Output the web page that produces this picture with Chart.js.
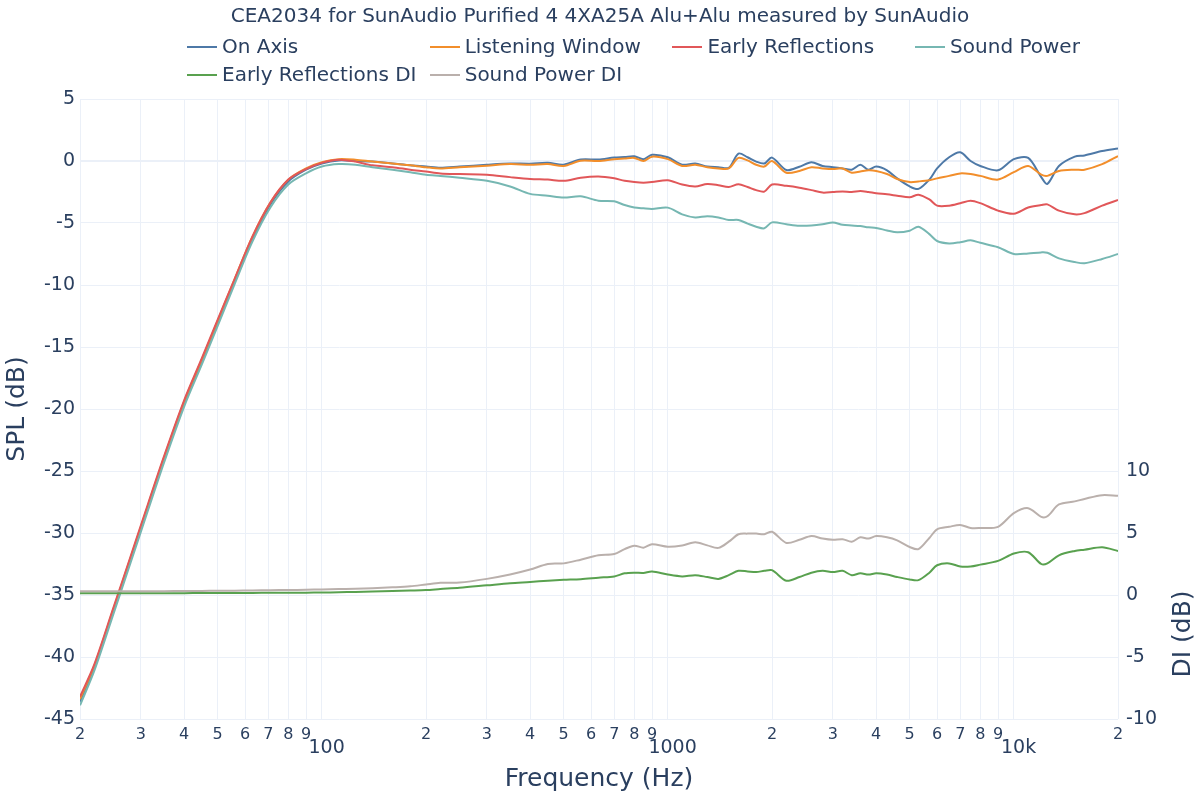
<!DOCTYPE html>
<html>
<head>
<meta charset="utf-8">
<title>CEA2034 SunAudio Purified 4</title>
<script src="https://cdn.jsdelivr.net/npm/chart.js@4.4.1/dist/chart.umd.min.js"></script>
<style>
  html, body { margin: 0; padding: 0; background: #fff; }
  #wrap { position: relative; width: 1200px; height: 800px; font-family: "DejaVu Sans", Verdana, sans-serif; color: #2a3f5f; }
  #title { position: absolute; top: 3px; left: 0; width: 1200px; text-align: center; font-size: 20px; line-height: 24px; }
  .leg { position: absolute; font-size: 20px; line-height: 24px; white-space: nowrap; }
  .leg i { display: inline-block; width: 30px; height: 2px; vertical-align: middle; margin-right: 5px; position: relative; top: -1px; }
</style>
</head>
<body>
<div id="wrap">
  <canvas id="spin" width="1200" height="800"></canvas>
  <div id="title">CEA2034 for SunAudio Purified 4 4XA25A Alu+Alu measured by SunAudio</div>
  <div id="legend"></div>
</div>
<script>
// frequency points (Hz)
var freqs = [20, 22, 25, 28, 31.5, 35, 40, 45, 50, 56,
  63, 71, 80, 90, 100, 112, 125, 140, 160, 180,
  200, 220, 250, 300, 350, 400, 450, 500, 560, 630,
  700, 750, 800, 850, 900, 1000, 1100, 1200, 1300, 1400,
  1500, 1600, 1700, 1800, 1900, 2000, 2200, 2400, 2600, 2800,
  3000, 3200, 3400, 3600, 3800, 4000, 4300, 4600, 5000, 5300,
  5700, 6000, 6500, 7000, 7500, 8000, 9000, 10000, 11000, 12000,
  12500, 13500, 15000, 16000, 18000, 20000];

var onAxis = [-43.6, -40.9, -36.3, -32.2, -27.9, -24.1, -19.6, -16.2, -13.1, -9.7,
  -6.3, -3.5, -1.65, -0.7, -0.2, 0.05, 0.0, -0.05, -0.2, -0.35,
  -0.45, -0.55, -0.45, -0.3, -0.2, -0.22, -0.15, -0.3, 0.12, 0.12,
  0.28, 0.32, 0.38, 0.15, 0.5, 0.3, -0.3, -0.2, -0.45, -0.5,
  -0.55, 0.6, 0.3, -0.05, -0.2, 0.27, -0.73, -0.46, -0.1, -0.4,
  -0.5, -0.6, -0.7, -0.3, -0.7, -0.45, -0.75, -1.4, -2.05, -2.25,
  -1.5, -0.6, 0.3, 0.7, 0.0, -0.4, -0.75, 0.15, 0.25, -1.3,
  -1.85, -0.4, 0.35, 0.45, 0.8, 1.0];

var listeningWindow = [-43.4, -40.7, -36.1, -32.0, -27.7, -23.9, -19.4, -16.0, -12.9, -9.5,
  -6.1, -3.35, -1.5, -0.6, -0.1, 0.15, 0.1, -0.05, -0.2, -0.35,
  -0.5, -0.6, -0.5, -0.38, -0.25, -0.3, -0.25, -0.4, 0.02, 0.0,
  0.15, 0.2, 0.25, 0.0, 0.35, 0.15, -0.4, -0.3, -0.5, -0.6,
  -0.6, 0.25, 0.05, -0.3, -0.45, 0.0, -0.95, -0.8, -0.5, -0.6,
  -0.65, -0.6, -0.95, -0.85, -0.75, -0.8, -1.05, -1.45, -1.7, -1.65,
  -1.55, -1.4, -1.2, -1.0, -1.05, -1.2, -1.5, -0.9, -0.4, -1.1,
  -1.2, -0.8, -0.7, -0.7, -0.25, 0.4];

var earlyReflections = [-43.2, -40.6, -36.0, -31.9, -27.6, -23.8, -19.3, -15.9, -12.8, -9.5,
  -6.1, -3.35, -1.5, -0.65, -0.15, 0.1, -0.05, -0.35, -0.5, -0.7,
  -0.85, -1.0, -1.05, -1.1, -1.3, -1.45, -1.5, -1.6, -1.35, -1.25,
  -1.4, -1.6, -1.7, -1.75, -1.7, -1.55, -1.9, -2.05, -1.85, -1.95,
  -2.1, -1.88, -2.1, -2.35, -2.47, -1.9, -2.0, -2.15, -2.35, -2.55,
  -2.5, -2.45, -2.5, -2.42, -2.5, -2.6, -2.69, -2.8, -2.93, -2.72,
  -3.1, -3.6, -3.6, -3.4, -3.2, -3.4, -4.0, -4.25, -3.75, -3.55,
  -3.5, -4.0, -4.3, -4.2, -3.6, -3.15];

var soundPower = [-43.9, -41.1, -36.5, -32.4, -28.1, -24.3, -19.8, -16.4, -13.3, -9.9,
  -6.5, -3.75, -1.9, -1.0, -0.45, -0.25, -0.3, -0.5, -0.7, -0.9,
  -1.1, -1.2, -1.35, -1.6, -2.05, -2.65, -2.8, -2.95, -2.85, -3.2,
  -3.25, -3.55, -3.75, -3.82, -3.87, -3.76, -4.3, -4.55, -4.45, -4.55,
  -4.76, -4.76, -5.05, -5.3, -5.43, -4.95, -5.1, -5.22, -5.2, -5.1,
  -4.95, -5.15, -5.2, -5.25, -5.35, -5.4, -5.6, -5.75, -5.62, -5.3,
  -5.9, -6.45, -6.65, -6.55, -6.4, -6.6, -6.95, -7.5, -7.45, -7.37,
  -7.4, -7.85, -8.15, -8.25, -7.9, -7.5];

var earlyReflectionsDI = [0.15, 0.15, 0.15, 0.15, 0.15, 0.15, 0.15, 0.16, 0.16, 0.17,
  0.17, 0.18, 0.18, 0.19, 0.2, 0.22, 0.25, 0.28, 0.32, 0.36,
  0.4, 0.48, 0.58, 0.78, 0.95, 1.05, 1.15, 1.22, 1.28, 1.4,
  1.5, 1.75, 1.8, 1.78, 1.9, 1.65, 1.5, 1.6, 1.45, 1.3,
  1.6, 1.95, 1.9, 1.85, 1.95, 2.0, 1.15, 1.45, 1.8, 1.95,
  1.85, 1.95, 1.6, 1.75, 1.65, 1.75, 1.65, 1.45, 1.25, 1.2,
  1.8, 2.4, 2.55, 2.3, 2.3, 2.45, 2.75, 3.35, 3.45, 2.5,
  2.55, 3.2, 3.55, 3.65, 3.85, 3.55];

var soundPowerDI = [0.3, 0.3, 0.3, 0.3, 0.31, 0.31, 0.32, 0.33, 0.34, 0.35,
  0.37, 0.39, 0.4, 0.42, 0.45, 0.48, 0.5, 0.55, 0.62, 0.7,
  0.85, 0.98, 1.0, 1.3, 1.65, 2.05, 2.5, 2.55, 2.85, 3.2,
  3.3, 3.7, 3.98, 3.82, 4.1, 3.9, 4.0, 4.25, 4.0, 3.8,
  4.3, 4.9, 4.95, 4.95, 4.9, 5.1, 4.2, 4.45, 4.75, 4.55,
  4.45, 4.5, 4.3, 4.65, 4.55, 4.75, 4.65, 4.4, 3.87, 3.7,
  4.6, 5.3, 5.5, 5.65, 5.4, 5.4, 5.5, 6.6, 7.0, 6.3,
  6.35, 7.3, 7.55, 7.75, 8.05, 8.0];

// x axis ticks: digit labels between decades, full label on decades
var xTicks = [20, 30, 40, 50, 60, 70, 80, 90, 100, 200, 300, 400, 500, 600, 700, 800, 900,
  1000, 2000, 3000, 4000, 5000, 6000, 7000, 8000, 9000, 10000, 20000];
var xTickLabels = ['2', '3', '4', '5', '6', '7', '8', '9', '100', '2', '3', '4', '5', '6', '7', '8', '9',
  '1000', '2', '3', '4', '5', '6', '7', '8', '9', '10k', '2'];
var majorTicks = [100, 1000, 10000];

var seriesNames = ['On Axis', 'Listening Window', 'Early Reflections', 'Sound Power', 'Early Reflections DI', 'Sound Power DI'];
var seriesColors = ['#4e79a7', '#f28e2b', '#e15759', '#76b7b2', '#59a14f', '#bab0ac'];
var seriesValues = [onAxis, listeningWindow, earlyReflections, soundPower, earlyReflectionsDI, soundPowerDI];
var seriesAxis = ['y', 'y', 'y', 'y', 'y2', 'y2'];

var textColor = '#2a3f5f';
var gridColor = '#ebf0f8';
var fontFamily = '"DejaVu Sans", Verdana, sans-serif';

function toPoints(vals) {
  return freqs.map(function(f, i) { return { x: f, y: vals[i] }; });
}

var datasets = seriesNames.map(function(name, i) {
  return {
    label: name,
    data: toPoints(seriesValues[i]),
    yAxisID: seriesAxis[i],
    borderColor: seriesColors[i],
    backgroundColor: seriesColors[i],
    borderWidth: 2,
    pointRadius: 0,
    tension: 0.3,
    fill: false,
    order: seriesNames.length - i
  };
});

// html legend, plotly style fixed columns
var legendBox = document.getElementById('legend');
seriesNames.forEach(function(name, i) {
  var col = i % 4, row = Math.floor(i / 4);
  var d = document.createElement('div');
  d.className = 'leg';
  d.style.left = (187 + col * 242.7) + 'px';
  d.style.top = (34 + row * 28) + 'px';
  d.innerHTML = '<i style="background:' + seriesColors[i] + '"></i>' + name;
  legendBox.appendChild(d);
});

// right axis title reads bottom to top like the left one
var diTitle = {
  id: 'diTitle',
  afterDraw: function(chart) {
    var ctx = chart.ctx;
    ctx.save();
    ctx.translate(chart.width - 17, 634);
    ctx.rotate(-Math.PI / 2);
    ctx.font = '25px ' + fontFamily;
    ctx.fillStyle = textColor;
    ctx.textAlign = 'center';
    ctx.textBaseline = 'middle';
    ctx.fillText('DI (dB)', 0, 0);
    ctx.restore();
  }
};

new Chart(document.getElementById('spin'), {
  type: 'line',
  data: { datasets: datasets },
  plugins: [diTitle],
  options: {
    responsive: false,
    animation: false,
    layout: { padding: { top: 99, left: 0, right: 0, bottom: 0 } },
    plugins: { legend: { display: false }, title: { display: false }, tooltip: { enabled: false } },
    scales: {
      x: {
        type: 'logarithmic',
        min: 20,
        max: 20000,
        afterBuildTicks: function(scale) {
          scale.ticks = xTicks.map(function(v) { return { value: v, major: majorTicks.indexOf(v) >= 0 }; });
        },
        afterFit: function(scale) { scale.height = 81; },
        border: { display: false },
        grid: { color: gridColor, lineWidth: 1, drawTicks: false },
        ticks: {
          autoSkip: false,
          maxRotation: 0,
          padding: 6,
          color: textColor,
          font: function(c) {
            var big = c.tick && majorTicks.indexOf(c.tick.value) >= 0;
            return big ? { family: fontFamily, size: 19, lineHeight: 0.8 } : { family: fontFamily, size: 16 };
          },
          callback: function(v) {
            var i = xTicks.indexOf(v);
            if (i < 0) return null;
            return majorTicks.indexOf(v) >= 0 ? ['', '\u2002' + xTickLabels[i]] : xTickLabels[i];
          }
        },
        title: { display: true, text: 'Frequency (Hz)', color: textColor, font: { family: fontFamily, size: 25 }, padding: { top: 0, bottom: 6 } }
      },
      y: {
        position: 'left',
        min: -45,
        max: 5,
        afterFit: function(scale) { scale.width = 80; },
        border: { display: false },
        grid: {
          color: gridColor,
          drawTicks: false,
          lineWidth: function(c) { return c.tick && c.tick.value === 0 ? 2 : 1; }
        },
        ticks: { stepSize: 5, padding: 5, color: textColor, font: { family: fontFamily, size: 19 } },
        title: { display: true, text: 'SPL (dB)', color: textColor, font: { family: fontFamily, size: 25 }, padding: { top: 2, bottom: 0 } }
      },
      y2: {
        position: 'right',
        min: -10,
        max: 40,
        afterFit: function(scale) { scale.width = 82; },
        border: { display: false },
        grid: { display: false, drawTicks: false },
        ticks: {
          stepSize: 5,
          padding: 8,
          color: textColor,
          font: { family: fontFamily, size: 19 },
          callback: function(v) { return v <= 10 ? v : ''; }
        }
      }
    }
  }
});
</script>
</body>
</html>
